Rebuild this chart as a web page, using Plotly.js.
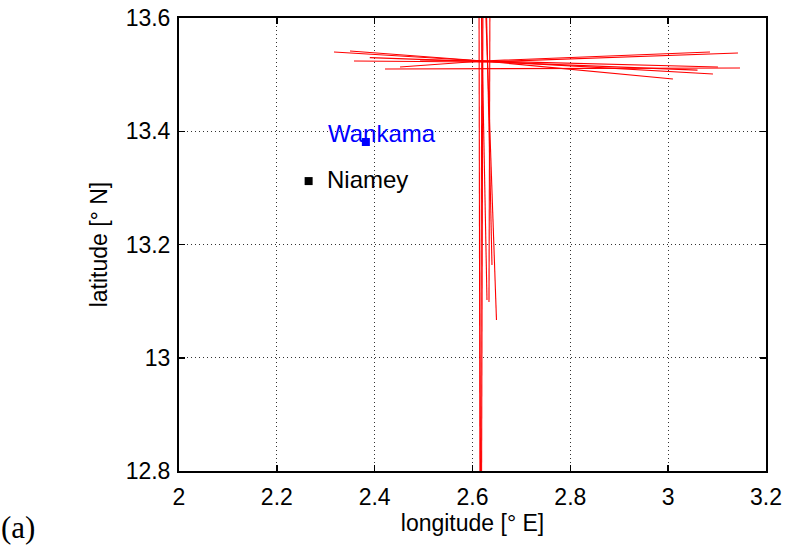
<!DOCTYPE html>
<html>
<head>
<meta charset="utf-8">
<script src="https://cdn.plot.ly/plotly-3.0.1.min.js"></script>
<style>html,body{margin:0;padding:0;background:#fff;}#chart{width:787px;height:546px;}</style>
</head>
<body>
<div id="chart"></div>
<script>
// Flight tracks (longitude / latitude), segments separated by null
const trackLon = [
  2.3168, 2.6214, 3.0916, null,
  2.3496, 2.6214, 3.0098, null,
  2.3577, 2.6214, 3.1427, null,
  2.4518, 2.6214, 3.0855, null,
  2.4211, 3.1468, null,
  2.4926, 2.6214, 3.1018, null,
  2.3900, 2.6214, 3.0600, null,
  2.6133, 2.6153, null,
  2.6214, 2.6184, null,
  2.6357, 2.6337, null,
  2.6255, 2.6490, null,
  2.6276, 2.6398, null,
  2.6173, 2.6296, null,
  2.6194, 2.6163
];
const trackLat = [
  13.5400, 13.5241, 13.5011, null,
  13.5417, 13.5241, 13.4923, null,
  13.5241, 13.5223, 13.5382, null,
  13.5135, 13.5241, 13.5400, null,
  13.5099, 13.5117, null,
  13.5258, 13.5241, 13.5135, null,
  13.5300, 13.5230, 13.5080, null,
  13.65, 12.75, null,
  13.65, 12.75, null,
  13.65, 13.0985, null,
  13.65, 13.0667, null,
  13.65, 13.1638, null,
  13.65, 13.1020, null,
  13.65, 12.75
];
// Sites
const siteNames = ["Wankama", "Niamey"];
const siteLon = [2.382, 2.265];
const siteLat = [13.381, 13.312];
const siteColors = ["#0000ff", "#000000"];
const labelLon = [2.3005, 2.2975];
const labelLat = [13.396, 13.314];

const xTicks = [2, 2.2, 2.4, 2.6, 2.8, 3, 3.2];
const xTickText = ["2", "2.2", "2.4", "2.6", "2.8", "3", "3.2"];
const yTicks = [12.8, 13, 13.2, 13.4, 13.6];
const yTickText = ["12.8", "13", "13.2", "13.4", "13.6"];

const font = "Liberation Sans, Arial, Helvetica, sans-serif";

const traces = [
  {x: trackLon, y: trackLat, mode: "lines", type: "scatter",
   line: {color: "#ff0000", width: 1.1}, hoverinfo: "skip", connectgaps: false},
  {x: siteLon, y: siteLat, mode: "markers", type: "scatter",
   marker: {symbol: "square", size: 8, color: siteColors}, hoverinfo: "skip"}
];

const annotations = siteNames.map((n, i) => ({
  x: labelLon[i], y: labelLat[i], xref: "x", yref: "y", text: n,
  showarrow: false, xanchor: "left", yanchor: "middle",
  font: {family: font, size: 24, color: siteColors[i]}
}));
annotations.push({
  x: 0, y: 0, xref: "paper", yref: "paper", xshift: -180, yshift: -56,
  text: "(a)", showarrow: false, xanchor: "left", yanchor: "middle",
  font: {family: "Liberation Serif, DejaVu Serif, serif", size: 31, color: "#000"}
});

const axisCommon = {
  showline: true, linecolor: "#000", linewidth: 2, mirror: "ticks",
  ticks: "inside", ticklen: 6, tickwidth: 1.5, tickcolor: "#000",
  showgrid: true, gridcolor: "#333", griddash: "1px,3px", gridwidth: 1,
  zeroline: false, tickfont: {family: font, size: 23, color: "#000"}
};

const layout = {
  width: 787, height: 546,
  margin: {l: 179, r: 21, t: 18, b: 75},
  paper_bgcolor: "#fff", plot_bgcolor: "#fff",
  showlegend: false,
  xaxis: Object.assign({}, axisCommon, {
    range: [2, 3.2], tickvals: xTicks, ticktext: xTickText, ticklabelstandoff: 4,
    title: {text: "longitude [° E]", font: {family: font, size: 23, color: "#000"}, standoff: 6}
  }),
  yaxis: Object.assign({}, axisCommon, {
    range: [12.8, 13.6], tickvals: yTicks, ticktext: yTickText, ticklabelstandoff: 2,
    title: {text: "latitude [° N]", font: {family: font, size: 23, color: "#000"}, standoff: 12}
  }),
  annotations: annotations
};

Plotly.newPlot("chart", traces, layout, {staticPlot: true});
</script>
</body>
</html>
